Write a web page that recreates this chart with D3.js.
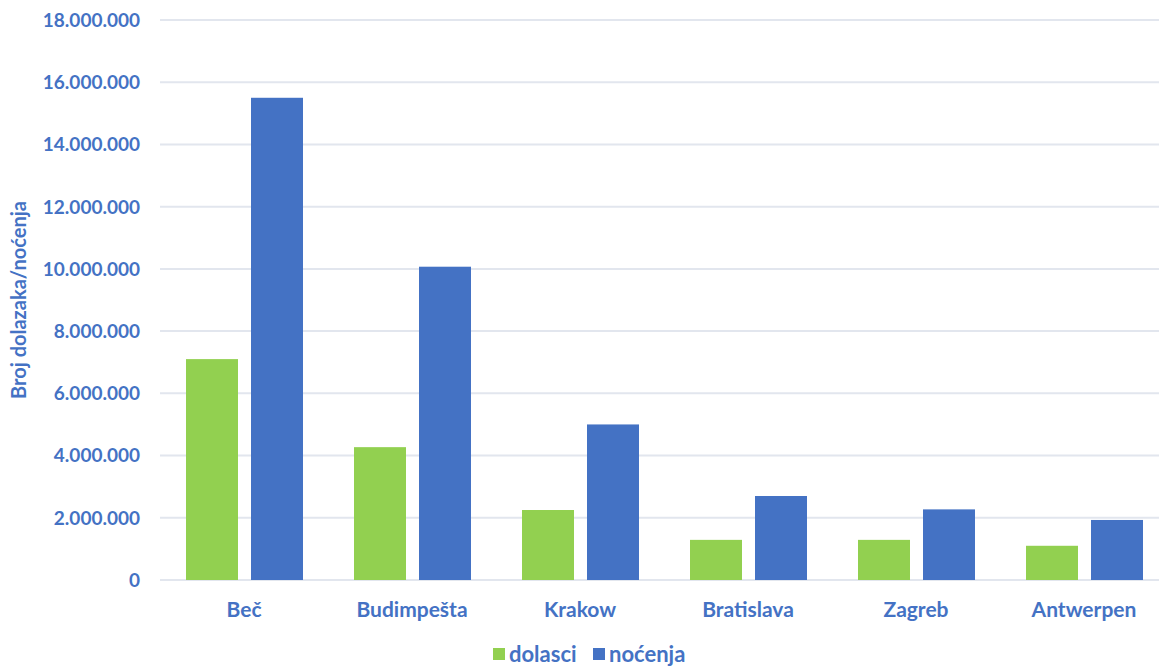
<!DOCTYPE html>
<html>
<head>
<meta charset="utf-8">
<script src="https://cdn.jsdelivr.net/npm/d3@7"></script>
<style>
body { margin: 0; background: #fff; }
text { font-family: Lato, "Open Sans", sans-serif; font-weight: bold; fill: #4472C4; }
.grid line { stroke: #E2E6EE; stroke-width: 2px; }
</style>
</head>
<body>
<script>
var cities = ["Beč", "Budimpešta", "Krakow", "Bratislava", "Zagreb", "Antwerpen"];
var dolasci = [7100000, 4270000, 2250000, 1290000, 1290000, 1100000];
var nocenja = [15500000, 10070000, 5000000, 2700000, 2270000, 1930000];
var yTicks = [0, 2000000, 4000000, 6000000, 8000000, 10000000, 12000000, 14000000, 16000000, 18000000];
var seriesNames = ["dolasci", "noćenja"];
var colors = ["#92D050", "#4472C4"];

var width = 1159, height = 668;

var svg = d3.select("body").append("svg")
    .attr("width", width)
    .attr("height", height);

var x = d3.scaleBand().domain(cities).range([160, 1168]);
var xs = d3.scaleBand().domain(seriesNames).range([26, 143]).paddingInner(0.2);
var y = d3.scaleLinear().domain([0, 18000000]).range([580, 20]);

var fmt = function(v) { return d3.format(",")(v).replace(/,/g, "."); };

// grid
svg.append("g").attr("class", "grid")
  .selectAll("line").data(yTicks).enter().append("line")
    .attr("x1", 160).attr("x2", 1168)
    .attr("y1", function(d) { return y(d); })
    .attr("y2", function(d) { return y(d); });

// y labels
svg.append("g").selectAll("text").data(yTicks).enter().append("text")
    .attr("x", 140)
    .attr("y", function(d) { return y(d); })
    .attr("dy", "0.36em")
    .attr("text-anchor", "end")
    .style("font-size", "19px")
    .text(fmt);

// bars
var data = [dolasci, nocenja];
var groups = svg.append("g").selectAll("g").data(cities).enter().append("g")
    .attr("transform", function(d) { return "translate(" + x(d) + ",0)"; });

groups.selectAll("rect")
  .data(function(d, i) { return seriesNames.map(function(s, j) { return {s: s, v: data[j][i], j: j}; }); })
  .enter().append("rect")
    .attr("x", function(d) { return xs(d.s); })
    .attr("width", xs.bandwidth())
    .attr("y", function(d) { return y(d.v); })
    .attr("height", function(d) { return y(0) - y(d.v); })
    .attr("fill", function(d) { return colors[d.j]; });

// x labels
svg.append("g").selectAll("text").data(cities).enter().append("text")
    .attr("x", function(d) { return x(d) + 84; })
    .attr("y", 617)
    .attr("text-anchor", "middle")
    .style("font-size", "21px")
    .text(function(d) { return d; });

// axis title
svg.append("text")
    .attr("transform", "translate(26,300) rotate(-90)")
    .attr("text-anchor", "middle")
    .style("font-size", "20px")
    .text("Broj dolazaka/noćenja");

// legend
var legendX = [493, 593];
var leg = svg.append("g").selectAll("g").data(seriesNames).enter().append("g")
    .attr("transform", function(d, i) { return "translate(" + legendX[i] + ",648)"; });
leg.append("rect").attr("width", 12).attr("height", 12)
    .attr("fill", function(d, i) { return colors[i]; });
leg.append("text").attr("x", 16).attr("y", 14)
    .style("font-size", "22px")
    .text(function(d) { return d; });
</script>
</body>
</html>
